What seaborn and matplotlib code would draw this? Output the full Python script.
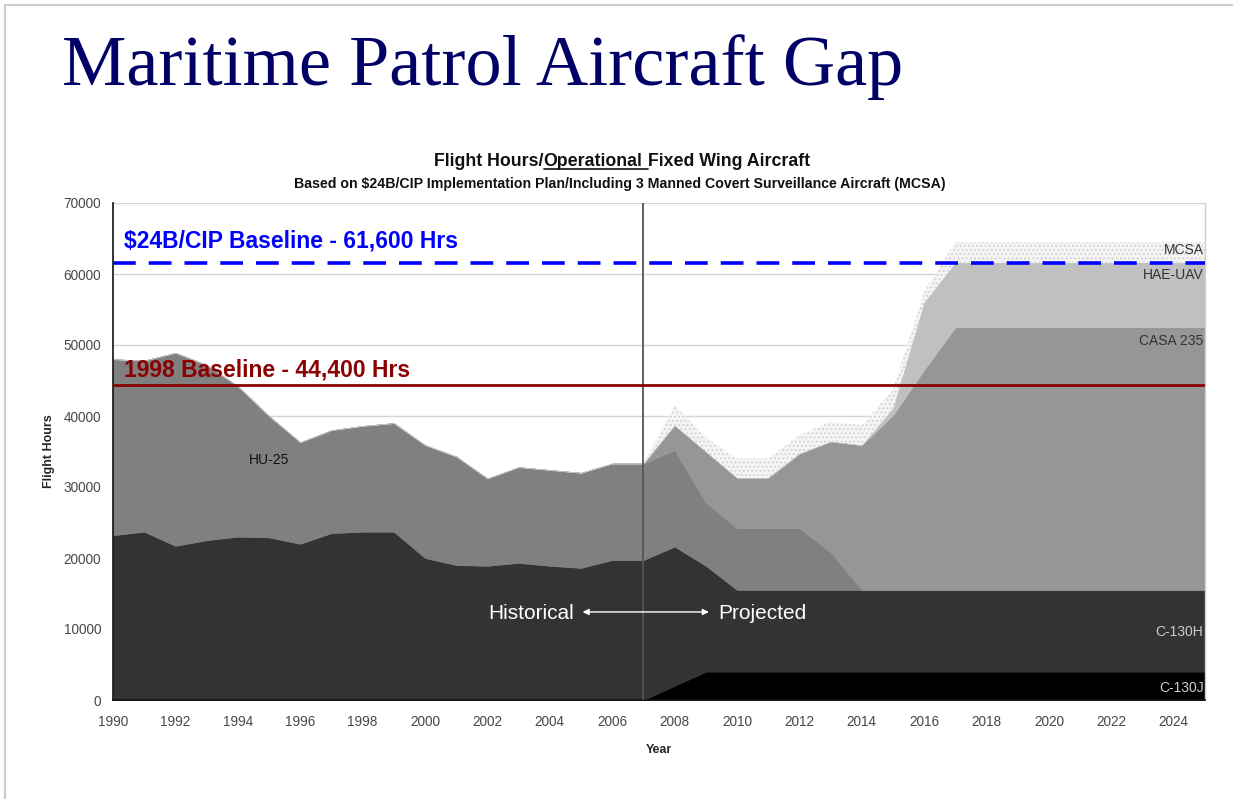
import numpy as np
import pandas as pd
import matplotlib
matplotlib.use("Agg")
import matplotlib.pyplot as plt
import seaborn as sns
from matplotlib.patches import Rectangle
from matplotlib.lines import Line2D

# ---------------- data ----------------
years = list(range(1990, 2026))
c130j = [0] * 18 + [2000] + [4000] * 17
c130h = [23200, 23700, 21700, 22500, 23000, 22900, 22000, 23500, 23700, 23700,
         20000, 19000, 18900, 19300, 18900, 18600, 19700, 19700, 19600, 14900] + [11500] * 16
hu25 = [24800, 24100, 27200, 24700, 21200, 17100, 14300, 14500, 14900, 15300,
        15900, 15300, 12300, 13500, 13500, 13400, 13600, 13600, 13600, 8900,
        8700, 8700, 8700, 5300] + [0] * 12
casa235 = [0] * 18 + [3500, 7200, 7100, 7100, 10500, 15600, 20400, 24600, 31000] + [37000] * 9
hae_uav = [0] * 25 + [1000, 9500] + [9100] * 9
mcsa = [0] * 18 + [2800, 2000, 2700, 2700, 2600, 2800, 2800, 2600, 1500] + [2900] * 9

series_names = ["C-130J", "C-130H", "HU-25", "CASA 235", "HAE-UAV", "MCSA"]
series_colors = ["#000000", "#333333", "#808080", "#969696", "#c0c0c0", "#f4f4f4"]

cip_baseline = 61600
baseline_1998 = 44400
split_year = 2007

yticks = list(range(0, 70001, 10000))
xtick_labels = [str(y) if y % 2 == 0 else "" for y in years]

df = pd.DataFrame({"Year": years, "C-130J": c130j, "C-130H": c130h, "HU-25": hu25,
                   "CASA 235": casa235, "HAE-UAV": hae_uav, "MCSA": mcsa})

# ---------------- style ----------------
sns.set_style("white")
plt.rcParams["font.family"] = ["Liberation Sans", "DejaVu Sans"]
plt.rcParams["hatch.color"] = "#cfcfcf"
plt.rcParams["hatch.linewidth"] = 0.8

W, H = 1233, 799
fig = plt.figure(figsize=(W / 100, H / 100), dpi=100)
fig.patch.set_facecolor("white")

def fx(px):
    return px / W

def fy(py):
    return 1 - py / H

ax = fig.add_axes([fx(113), fy(700), (1205 - 113) / W, (700 - 203) / H])

# gridlines
for yv in yticks[1:]:
    ax.axhline(yv, color="#d4d4d4", lw=1.0, zorder=0)

polys = ax.stackplot(df["Year"], *[df[n] for n in series_names],
                     colors=series_colors, zorder=2)
for p, c in zip(polys, series_colors):
    p.set_edgecolor(c)
    p.set_linewidth(0.4)
polys[-1].set_hatch("....")
polys[-1].set_edgecolor("#cfcfcf")
polys[-1].set_linewidth(0)

ax.axvline(split_year, color="#555555", lw=1.3, zorder=4)
ax.axhline(baseline_1998, color="#8b0000", lw=2.0, zorder=5)
ax.axhline(cip_baseline, color="#0000ff", lw=2.6, dashes=(6.3, 3.6), zorder=5)

ax.set_xlim(1990, 2025)
ax.set_ylim(0, 70000)
ax.set_xticks(years + [2025])
ax.set_xticklabels(xtick_labels + [""])
ax.set_yticks(yticks)
ax.set_yticklabels([str(v) for v in yticks])
ax.tick_params(axis="both", direction="out", length=3.5, width=1, color="#222222",
               labelsize=9.8, labelcolor="#484848", pad=7)
ax.tick_params(axis="y", pad=5)
ax.spines["top"].set_visible(False)
ax.spines["right"].set_color("#cfcfcf")
ax.spines["right"].set_linewidth(1)
ax.spines["left"].set_color("#111111")
ax.spines["bottom"].set_color("#111111")
ax.spines["left"].set_linewidth(1.2)
ax.spines["bottom"].set_linewidth(1.2)
ax.set_xlabel("Year", fontsize=9, fontweight="bold", labelpad=11)
ax.set_ylabel("Flight Hours", fontsize=9, fontweight="bold", labelpad=6)

# baseline labels
ax.text(1990.35, 64600, "\\$24B/CIP Baseline - 61,600 Hrs", color="#0000ff",
        fontsize=16.5, fontweight="bold", va="center", ha="left", zorder=6)
ax.text(1990.35, 46500, "1998 Baseline - 44,400 Hrs", color="#8b0000",
        fontsize=16.5, fontweight="bold", va="center", ha="left", zorder=6)

# series labels
ax.text(1995.0, 33800, "HU-25", fontsize=10, color="#111111", ha="center", va="center", zorder=6)
ax.text(2024.95, 63400, "MCSA", fontsize=10, color="#333333", ha="right", va="center", zorder=6)
ax.text(2024.95, 59800, "HAE-UAV", fontsize=10, color="#333333", ha="right", va="center", zorder=6)
ax.text(2024.95, 50600, "CASA 235", fontsize=10, color="#333333", ha="right", va="center", zorder=6)
ax.text(2024.95, 9600, "C-130H", fontsize=10, color="#cccccc", ha="right", va="center", zorder=6)
ax.text(2024.95, 1700, "C-130J", fontsize=10, color="#cccccc", ha="right", va="center", zorder=6)

# historical / projected
ax.text(2003.4, 12250, "Historical", fontsize=15, color="white", ha="center", va="center", zorder=6)
ax.text(2010.8, 12250, "Projected", fontsize=15, color="white", ha="center", va="center", zorder=6)
ax.annotate("", xy=(2005.05, 12400), xytext=(2009.1, 12400),
            arrowprops=dict(arrowstyle="<|-|>", color="white", lw=1.0,
                            mutation_scale=9, shrinkA=0, shrinkB=0), zorder=6)

# slide title
fig.text(fx(62), fy(85), "Maritime Patrol Aircraft Gap", fontsize=52,
         family=["Liberation Serif", "DejaVu Serif"], color="#000066", ha="left", va="baseline")

# chart title with underlined word
fig.canvas.draw()
renderer = fig.canvas.get_renderer()
parts = ["Flight Hours/", "Operational", "Fixed Wing Aircraft"]
tkw = dict(fontsize=12.8, fontweight="bold", color="#111111", va="baseline", ha="left")
tmp = [fig.text(0, 0, p, **tkw) for p in parts]
widths = [t.get_window_extent(renderer).width for t in tmp]
space = fig.text(0, 0, "a", **tkw)
sp_w = space.get_window_extent(renderer).width * 0.5
space.remove()
for t in tmp:
    t.remove()
total = sum(widths) + sp_w
x0 = 622 - total / 2
base_y = 166
pos = [x0, x0 + widths[0], x0 + widths[0] + widths[1] + sp_w]
for p, xp in zip(parts, pos):
    fig.text(fx(xp), fy(base_y), p, **tkw)
fig.add_artist(Line2D([fx(pos[1]), fx(pos[1] + widths[1] + sp_w)], [fy(base_y + 2.5), fy(base_y + 2.5)],
                      transform=fig.transFigure, color="#111111", lw=1.2))
fig.text(fx(620), fy(188), "Based on \\$24B/CIP Implementation Plan/Including 3 Manned Covert Surveillance Aircraft (MCSA)",
         fontsize=10.2, fontweight="bold", color="#111111", ha="center", va="baseline")

# slide frame
fig.add_artist(Rectangle((fx(5), fy(H + 10)), 1.2, (H + 5) / H, transform=fig.transFigure,
                         fill=False, edgecolor="#cccccc", lw=1.5))

fig.savefig("out.png", dpi=100)
